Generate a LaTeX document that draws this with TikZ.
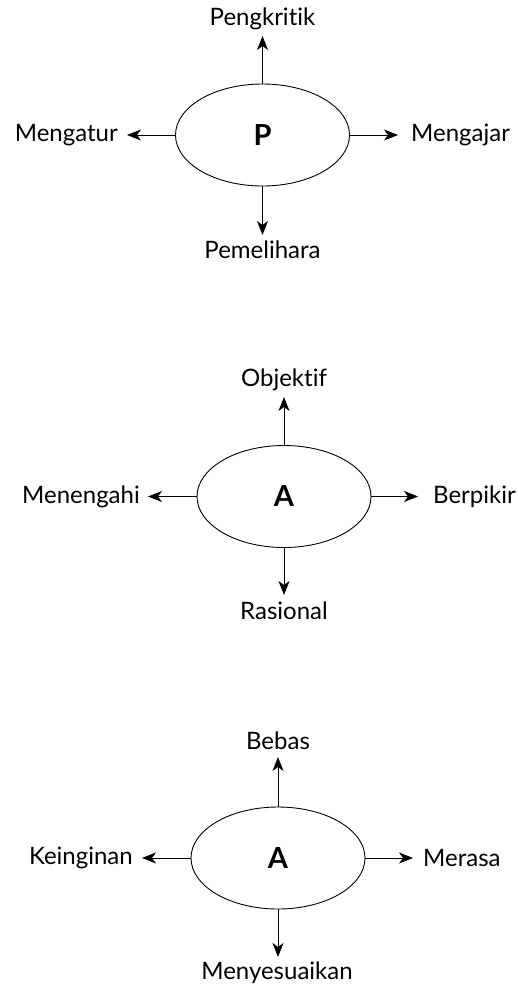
\documentclass[tikz,border=0pt]{standalone}
\usepackage{fontspec}
\setmainfont{Lato}[Ligatures={NoCommon}]
\usetikzlibrary{arrows.meta,shapes.geometric}
\begin{document}
\begin{tikzpicture}[x=1pt,y=1pt,
  oval/.style={draw,ellipse,line width=0.9pt,inner sep=0pt,minimum width=174pt,minimum height=102pt,font=\fontsize{29}{31}\selectfont\bfseries},
  lbl/.style={font=\fontsize{24}{26}\selectfont,inner sep=0pt},
  arr/.style={line width=0.9pt,-{Stealth[length=14pt,width=11pt,inset=4pt]}}]
\useasboundingbox (0,0) rectangle (518,-986);
% diagram 1
\node[oval] (e1) at (262.5,-135) {P};
\coordinate (t1) at (262.5,-36);
\coordinate (b1) at (262.5,-235);
\coordinate (l1) at (127,-135);
\coordinate (r1) at (398,-135);
\node[lbl] (n1) at (262.5,-19) {Pengkritik};
\node[lbl] (s1) at (262.5,-250) {Pemelihara};
\node[lbl,anchor=east] (w1) at (118,-135) {Mengatur};
\node[lbl,anchor=west] (o1) at (411,-135) {Mengajar};
\draw[arr] (e1.north) -- (t1);
\draw[arr] (e1.south) -- (b1);
\draw[arr] (e1.west) -- (l1);
\draw[arr] (e1.east) -- (r1);
% diagram 2
\node[oval] (e2) at (284,-496.5) {A};
\coordinate (t2) at (284,-397);
\coordinate (b2) at (284,-595);
\coordinate (l2) at (148,-496.5);
\coordinate (r2) at (418,-496.5);
\node[lbl] (n2) at (284,-380) {Objektif};
\node[lbl] (s2) at (284,-611) {Rasional};
\node[lbl,anchor=east] (w2) at (140,-496.5) {Menengahi};
\node[lbl,anchor=west] (o2) at (433,-496.5) {Berpikir};
\draw[arr] (e2.north) -- (t2);
\draw[arr] (e2.south) -- (b2);
\draw[arr] (e2.west) -- (l2);
\draw[arr] (e2.east) -- (r2);
% diagram 3
\node[oval] (e3) at (278,-858) {A};
\coordinate (t3) at (278,-757);
\coordinate (b3) at (278,-957);
\coordinate (l3) at (142,-858);
\coordinate (r3) at (413,-858);
\node[lbl] (n3) at (278,-741) {Bebas};
\node[lbl] (s3) at (277,-973) {Menyesuaikan};
\node[lbl,anchor=east] (w3) at (133,-858) {Keinginan};
\node[lbl,anchor=west] (o3) at (423,-858) {Merasa};
\draw[arr] (e3.north) -- (t3);
\draw[arr] (e3.south) -- (b3);
\draw[arr] (e3.west) -- (l3);
\draw[arr] (e3.east) -- (r3);
\end{tikzpicture}
\end{document}
